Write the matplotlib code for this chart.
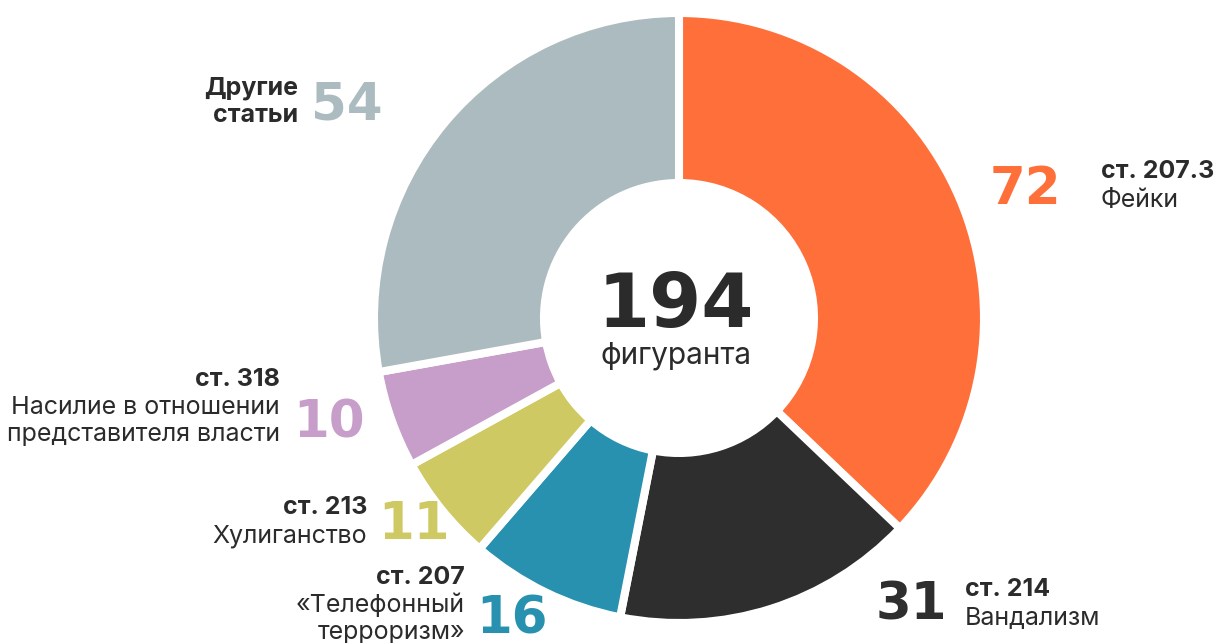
import matplotlib.pyplot as plt

# данные
counts = [72, 31, 16, 11, 10, 54]
colors = ['#ff6f3a', '#2e2e2e', '#2891b0', '#cfc964', '#c79dc9', '#abbbbf']
articles = ['ст. 207.3', 'ст. 214', 'ст. 207', 'ст. 213', 'ст. 318', '']
names = ['Фейки', 'Вандализм', '«Телефонный\nтерроризм»', 'Хулиганство',
         'Насилие в отношении\nпредставителя власти', 'Другие\nстатьи']
total = sum(counts)
total_label = 'фигуранта'

TEXT = '#2b2b2b'
plt.rcParams['font.family'] = ['Inter', 'DejaVu Sans']

W, H = 1216, 643
fig = plt.figure(figsize=(W / 100, H / 100), dpi=100)
ax = fig.add_axes([0, 0, 1, 1])

# y-ось перевернута: counterclock=True даёт обход по часовой стрелке
ax.pie(counts, colors=colors, startangle=-90, counterclock=True,
       center=(679, 318), radius=305, frame=True,
       wedgeprops=dict(width=170, edgecolor='white', linewidth=5.8))
ax.set_xlim(0, W)
ax.set_ylim(H, 0)
ax.set_aspect('equal')
ax.axis('off')

# центр
ax.text(676, 306, str(total), ha='center', va='center', fontsize=54,
        fontweight='black', color=TEXT, family=['DejaVu Sans'])
ax.text(676, 356, total_label, ha='center', va='center', fontsize=21.5, color=TEXT)

BIG = 37
REG = 18


def big(x, y, i, ha='left'):
    ax.text(x, y, str(counts[i]), ha=ha, va='center', fontsize=BIG,
            fontweight='black', color=colors[i], family=['DejaVu Sans'])


def label(x, y, i, ha='left'):
    if articles[i]:
        ax.text(x, y, articles[i], ha=ha, va='center', fontsize=REG,
                fontweight='bold', color=TEXT)
        y += 28
    for line in names[i].split('\n'):
        ax.text(x, y, line, ha=ha, va='center', fontsize=REG, color=TEXT)
        y += 27


# Фейки
big(990, 190, 0)
label(1101, 172, 0)
# Вандализм
big(876, 605, 1)
label(965, 590, 1)
# Телефонный терроризм
big(476, 620, 2)
label(465, 577, 2, ha='right')
# Хулиганство
big(378, 525, 3)
label(367, 508, 3, ha='right')
# Насилие
big(293, 423, 4)
label(280, 380, 4, ha='right')
# Другие статьи
big(311, 105, 5)
ax.text(298, 88, 'Другие', ha='right', va='center', fontsize=REG,
        fontweight='bold', color=TEXT)
ax.text(298, 116, 'статьи', ha='right', va='center', fontsize=REG,
        fontweight='bold', color=TEXT)

fig.savefig('out.png', dpi=100)
